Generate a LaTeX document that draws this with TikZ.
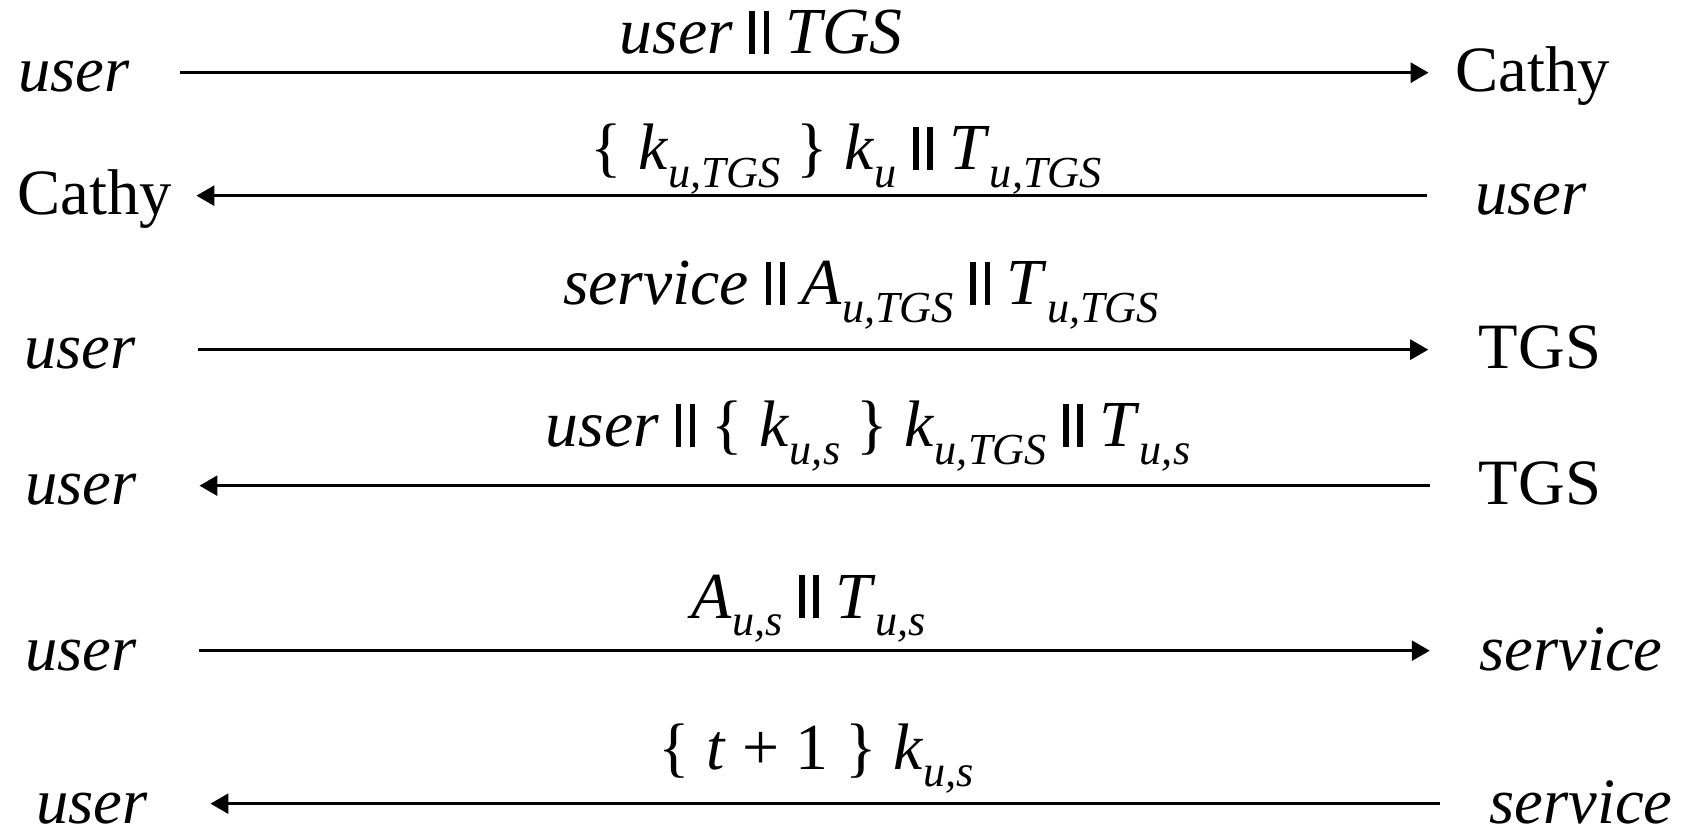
\documentclass[tikz,border=0pt]{standalone}
\usepackage{fontspec}
\setmainfont{Liberation Serif}
\usetikzlibrary{arrows.meta}

% concatenation bars and lowered subscripts
\newcommand{\cat}{\rule{0.085em}{0.66em}\kern0.13em\rule{0.085em}{0.66em}}
\newcommand{\sub}[1]{\raisebox{-0.27em}{\fontsize{12.6pt}{13pt}\selectfont\itshape #1}}

\begin{document}
\begin{tikzpicture}[
    party/.style={inner ysep=0pt, text height=12pt, text depth=1pt, anchor=base, font=\fontsize{18.4pt}{22pt}\selectfont},
    leftparty/.style={party, inner xsep=0.62cm},
    rightparty/.style={party, inner xsep=0.5cm},
    msglabel/.style={inner sep=0pt, anchor=base, font=\fontsize{18.7pt}{22pt}\selectfont},
    msg/.style={-{Triangle[length=1.8mm,width=2mm]}, line width=0.8pt}
]
\useasboundingbox (0,0) rectangle (16.86,-8.29);

% parties on both sides
\node[leftparty, inner xsep=0.50cm] (l1) at (0.74,-0.92) {\textit{user}};
\node[rightparty, inner xsep=0.265cm] (r1) at (15.33,-0.92) {Cathy};
\node[leftparty, inner xsep=0.235cm] (l2) at (0.95,-2.15) {Cathy};
\node[rightparty, inner xsep=0.48cm] (r2) at (15.31,-2.15) {\textit{user}};
\node[leftparty] (l3) at (0.80,-3.69) {\textit{user}};
\node[rightparty] (r3) at (15.40,-3.69) {TGS};
\node[leftparty] (l4) at (0.81,-5.05) {\textit{user}};
\node[rightparty, inner xsep=0.48cm] (r4) at (15.40,-5.05) {TGS};
\node[leftparty] (l5) at (0.81,-6.70) {\textit{user}};
\node[rightparty, inner xsep=0.49cm] (r5) at (15.71,-6.70) {\textit{service}};
\node[leftparty] (l6) at (0.92,-8.23) {\textit{user}};
\node[rightparty, inner xsep=0.49cm] (r6) at (15.81,-8.23) {\textit{service}};

% messages
\node[msglabel] (m1) at (7.61,-0.54) {\textit{user} \cat{} \textit{TGS}};
\node[msglabel] (m2) at (8.46,-1.70) {\{ \textit{k}\sub{u,TGS} \} \textit{k}\sub{u} \cat{} \textit{T}\sub{u,TGS}};
\node[msglabel] (m3) at (8.61,-3.05) {\textit{service} \cat{} \textit{A}\sub{u,TGS} \cat{} \textit{T}\sub{u,TGS}};
\node[msglabel] (m4) at (8.68,-4.47) {\textit{user} \cat{} \{ \textit{k}\sub{u,s} \} \textit{k}\sub{u,TGS} \cat{} \textit{T}\sub{u,s}};
\node[msglabel] (m5) at (8.09,-6.18) {\textit{A}\sub{u,s} \cat{} \textit{T}\sub{u,s}};
\node[msglabel] (m6) at (8.16,-7.69) {\{ \textit{t} + 1 \} \textit{k}\sub{u,s}};

\draw[msg] (l1) -- (r1);
\draw[msg] (r2) -- (l2);
\draw[msg] (l3) -- (r3);
\draw[msg] (r4) -- (l4);
\draw[msg] (l5) -- (r5);
\draw[msg] (r6) -- (l6);

\end{tikzpicture}
\end{document}
